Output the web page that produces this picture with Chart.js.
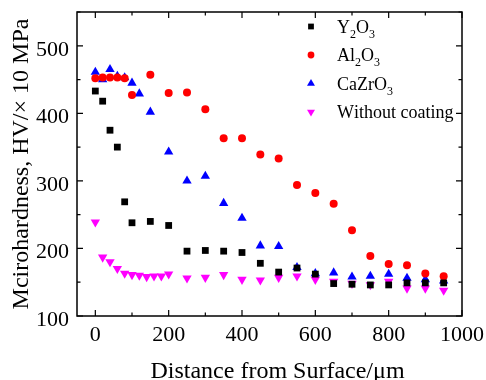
<!DOCTYPE html>
<html><head><meta charset="utf-8">
<script src="https://cdn.jsdelivr.net/npm/chart.js@4/dist/chart.umd.min.js"></script>
<style>html,body{margin:0;padding:0;background:#fff;}#wrap{width:486px;height:380px;}</style>
</head><body><div id="wrap"><canvas id="c" width="486" height="380"></canvas></div>
<script>
// ---- data ----
const seriesNames = ['Y₂O₃', 'Al₂O₃', 'CaZrO₃', 'Without coating'];

const y2o3X = [0, 20, 40, 60, 80, 100, 150, 200, 250, 300, 350, 400, 450, 500, 550, 600, 650, 700, 750, 800, 850, 900, 950];
const y2o3Y = [433, 418, 375, 350, 269, 238, 240, 234, 196, 197, 196, 194, 178, 165, 171, 162, 148, 147, 146, 146, 149, 149, 149];

const al2o3X = [0, 20, 40, 60, 80, 100, 150, 200, 250, 300, 350, 400, 450, 500, 550, 600, 650, 700, 750, 800, 850, 900, 950];
const al2o3Y = [452, 453, 453, 453, 452, 427, 457, 430, 431, 406, 363, 363, 339, 333, 294, 282, 266, 227, 189, 177, 175, 163, 159];

const cazro3X = [0, 20, 40, 60, 80, 100, 120, 150, 200, 250, 300, 350, 400, 450, 500, 550, 600, 650, 700, 750, 800, 850, 900, 950];
const cazro3Y = [461, 450, 465, 455, 453, 445, 429, 402, 343, 300, 307, 267, 245, 204, 203, 172, 163, 164, 158, 159, 162, 156, 154, 152];

const uncoatedX = [0, 20, 40, 60, 80, 100, 120, 140, 160, 180, 200, 250, 300, 350, 400, 450, 500, 550, 600, 650, 700, 750, 800, 850, 900, 950];
const uncoatedY = [239, 187, 180, 170, 163, 161, 160, 158, 159, 159, 162, 156, 157, 161, 154, 153, 157, 159, 154, 151, 148, 146, 151, 141, 141, 138];

const xTickValues = [0, 100, 200, 300, 400, 500, 600, 700, 800, 900, 1000];
const xTickLabels = [0, 200, 400, 600, 800, 1000];
const yTickValues = [100, 150, 200, 250, 300, 350, 400, 450, 500, 550];
const yTickLabels = [100, 200, 300, 400, 500];

const xTitle = 'Distance from Surface/μm';
const yTitle = 'Mcirohardness, HV/× 10 MPa';

// ---- helpers ----
const FAMILY = "'Liberation Serif', 'Times New Roman', serif";
const pts = (xs, ys) => xs.map((x, i) => ({x: x, y: ys[i]}));

const frameAndTicks = {
  id: 'frameAndTicks',
  beforeDraw(chart) {
    const sy = chart.scales.y, sx = chart.scales.x;
    if (!sy._shifted) {
      const orig = sy.drawLabels.bind(sy);
      sy.drawLabels = function (ca) { const c = this.ctx; c.save(); c.translate(0, 4); orig(ca); c.restore(); };
      sy._shifted = true;
    }
    if (!sx._shifted) {
      const origT = sx.drawTitle.bind(sx);
      sx.drawTitle = function (ca) { const c = this.ctx; c.save(); c.translate(8, 2); origT(ca); c.restore(); };
      sx._shifted = true;
    }
  },
  afterDraw(chart) {
    const {ctx, chartArea: a, scales} = chart;
    ctx.save();
    ctx.strokeStyle = '#000';
    ctx.lineWidth = 1.5;
    ctx.strokeRect(a.left, a.top, a.right - a.left, a.bottom - a.top);
    ctx.lineWidth = 1.2;
    ctx.beginPath();
    xTickValues.forEach(v => {
      const px = scales.x.getPixelForValue(v);
      const len = xTickLabels.includes(v) ? 6 : 3.5;
      ctx.moveTo(px, a.bottom); ctx.lineTo(px, a.bottom - len);
      ctx.moveTo(px, a.top); ctx.lineTo(px, a.top + len);
    });
    yTickValues.forEach(v => {
      const py = scales.y.getPixelForValue(v);
      const len = yTickLabels.includes(v) ? 6 : 3.5;
      ctx.moveTo(a.left, py); ctx.lineTo(a.left + len, py);
      ctx.moveTo(a.right, py); ctx.lineTo(a.right - len, py);
    });
    ctx.stroke();
    ctx.restore();
  }
};

const subMap = {'₀':'0','₁':'1','₂':'2','₃':'3','₄':'4','₅':'5','₆':'6','₇':'7','₈':'8','₉':'9'};
const customLegend = {
  id: 'customLegend',
  afterDraw(chart) {
    const {ctx, chartArea: a} = chart;
    const markerX = a.left + 234;
    const textX = a.left + 260;
    const y0 = a.top + 14.5;
    const step = 28.5;
    ctx.save();
    chart.data.datasets.forEach((ds, i) => {
      const y = y0 + i * step;
      ctx.fillStyle = ds.backgroundColor;
      Chart.helpers.drawPoint(ctx, {pointStyle: ds.pointStyle, radius: ds.pointRadius * 0.85, rotation: ds.rotation || 0, borderWidth: 0}, markerX, y);
      ctx.fillStyle = '#000';
      ctx.textBaseline = 'alphabetic';
      let x = textX;
      const base = y + 6;
      for (const ch of ds.label) {
        if (subMap[ch]) {
          ctx.font = '12px ' + FAMILY;
          ctx.fillText(subMap[ch], x, base + 5);
          x += ctx.measureText(subMap[ch]).width;
        } else {
          ctx.font = '18px ' + FAMILY;
          ctx.fillText(ch, x, base);
          x += ctx.measureText(ch).width;
        }
      }
    });
    ctx.restore();
  }
};

const mk = (label, xs, ys, color, style, r, rot) => ({
  label: label, data: pts(xs, ys), backgroundColor: color, borderColor: color,
  pointStyle: style, pointRadius: r, pointBorderWidth: 0, rotation: rot || 0, pointRotation: rot || 0, showLine: false
});

new Chart(document.getElementById('c'), {
  type: 'scatter',
  data: {
    datasets: [
      mk(seriesNames[0], y2o3X, y2o3Y, '#000000', 'rect', 4.8),
      mk(seriesNames[1], al2o3X, al2o3Y, '#ff0000', 'circle', 4.0),
      mk(seriesNames[2], cazro3X, cazro3Y, '#0000ff', 'triangle', 5.4),
      mk(seriesNames[3], uncoatedX, uncoatedY, '#ff00ff', 'triangle', 5.4, 180)
    ]
  },
  options: {
    responsive: false, animation: false, devicePixelRatio: 1,
    layout: {padding: {top: 12, right: 24, left: 0, bottom: 0}},
    plugins: {legend: {display: false}, tooltip: {enabled: false}},
    scales: {
      x: {
        type: 'linear', min: -50, max: 1000,
        afterBuildTicks: s => { s.ticks = xTickValues.map(v => ({value: v})); },
        afterFit: s => { s.height = 64; s.paddingLeft = 0; s.paddingRight = 0; s.paddingTop = 0; s.paddingBottom = 0; },
        ticks: {callback: v => xTickLabels.includes(v) ? String(v) : '', font: {family: FAMILY, size: 22}, color: '#000', padding: 6, maxRotation: 0, autoSkip: false},
        grid: {display: false, drawTicks: false},
        border: {display: false},
        title: {display: true, text: xTitle, color: '#000', font: {family: FAMILY, size: 24, lineHeight: 0.85}, padding: {top: 0, bottom: 0}}
      },
      y: {
        type: 'linear', min: 100, max: 550,
        afterBuildTicks: s => { s.ticks = yTickValues.map(v => ({value: v})); },
        afterFit: s => { s.width = 77; s.paddingTop = 0; s.paddingBottom = 0; s.paddingLeft = 0; s.paddingRight = 0; },
        ticks: {callback: v => yTickLabels.includes(v) ? String(v) : '', font: {family: FAMILY, size: 22}, color: '#000', padding: 8, autoSkip: false},
        grid: {display: false, drawTicks: false},
        border: {display: false},
        title: {display: true, text: yTitle, color: '#000', font: {family: FAMILY, size: 24, lineHeight: 1.2}, padding: {top: 7, bottom: 0}}
      }
    }
  },
  plugins: [frameAndTicks, customLegend]
});
</script></body></html>
